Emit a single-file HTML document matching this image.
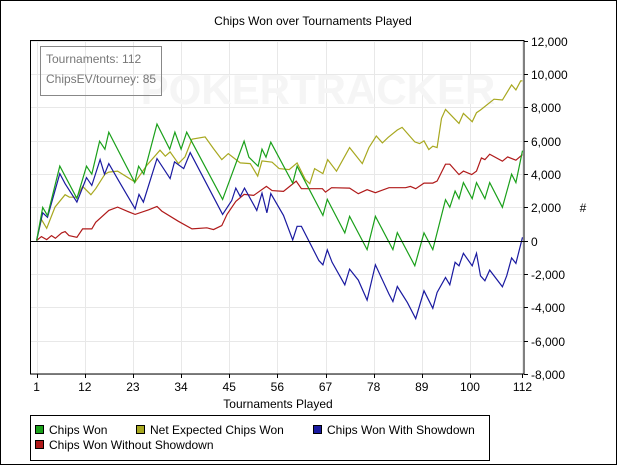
<!DOCTYPE html>
<html><head><meta charset="utf-8"><style>
body{margin:0;background:#fff;font-family:"Liberation Sans",sans-serif;}
svg text{font-family:"Liberation Sans",sans-serif;}
</style></head><body>
<svg id="chart" width="617" height="465" xmlns="http://www.w3.org/2000/svg">
<rect x="0.5" y="0.5" width="616" height="464" fill="#fff" stroke="#000"/>
<text x="313" y="25" font-size="12" text-anchor="middle">Chips Won over Tournaments Played</text>
<g id="grid"></g>
<text x="318" y="104" font-size="42" fill="#f5f5f5" text-anchor="middle" font-weight="bold">POKERTRACKER</text>
<rect x="40.5" y="46.5" width="121" height="49" fill="none" stroke="#888"/>
<text x="46" y="63" font-size="12" fill="#777">Tournaments: 112</text>
<text x="46" y="83" font-size="12" fill="#777">ChipsEV/tourney: 85</text>
<g id="series"></g>
<rect x="30.5" y="40.5" width="493.5" height="333.5" fill="none" stroke="#000"/>
<g id="axes"></g>
<text x="278" y="408" font-size="12" text-anchor="middle">Tournaments Played</text>
<text x="583" y="212" font-size="12" text-anchor="middle">#</text>
<rect x="30.5" y="415.5" width="459" height="45" fill="#fff" stroke="#000"/>
<g><rect x="35.5" y="425.5" width="8" height="8" fill="#1aa01a" stroke="#000"/><text x="49" y="434" font-size="12">Chips Won</text></g>
<g><rect x="136.5" y="425.5" width="8" height="8" fill="#a8a820" stroke="#000"/><text x="150" y="434" font-size="12">Net Expected Chips Won</text></g>
<g><rect x="313.5" y="425.5" width="8" height="8" fill="#1a1aa0" stroke="#000"/><text x="327" y="434" font-size="12">Chips Won With Showdown</text></g>
<g><rect x="35.5" y="440.5" width="8" height="8" fill="#b01a1a" stroke="#000"/><text x="49" y="449" font-size="12">Chips Won Without Showdown</text></g>
</svg>
<script>
const xTicks=[1,12,23,34,45,56,67,78,89,100,112];
const yTicks=[-8000,-6000,-4000,-2000,0,2000,4000,6000,8000,10000,12000];
const greenT=[1,2.4,3.5,6.3,10.2,12.4,13.6,15.4,16.6,17.5,23.4,24.3,25.5,28.5,31.4,32.6,34,35.3,43.5,48.4,49.5,51.6,52.5,53.4,54.5,59.5,60.5,66.4,67.4,71.4,72.5,76.5,78.4,82.4,83.4,87.4,89.5,91.5,94.4,95.4,96.6,97.5,98.5,100.5,101.5,103.4,104.5,107.4,109.5,110.5,112];
const greenV=[0,1990,1500,4470,2530,4460,3980,5960,5480,6500,3490,4460,3980,6990,5480,6500,5480,6500,2470,5960,5000,4460,5480,5000,5900,3450,4460,1510,2470,460,1460,-540,1460,-540,480,-1510,460,-540,2450,2000,2970,2510,3480,2510,3480,2510,3480,2000,3980,3480,5400];
const blueT=[1,2.4,3.5,6.3,7.5,10.2,12.4,13.6,15.5,16.5,17.5,19.7,23.5,24.4,25.4,28.5,31.5,32.5,34.6,36.1,43.5,45.6,46.5,47.5,48.5,51.3,52.5,53.6,54.5,57.4,59.5,60.5,61.5,65.5,66.4,67.4,68.5,71.4,72.5,74.5,76.5,78.4,81.5,82.4,83.4,85.7,87.6,89.5,91.5,92.5,94.4,95.4,96.6,97.5,98.5,100.5,101.5,102.4,103.4,104.5,107.4,108.4,109.5,110.5,112];
const blueV=[0,1670,1400,4020,3410,2310,3780,3310,4860,3980,4620,3610,1910,2770,2310,4920,3720,4720,4320,5280,1570,2410,3150,2650,3150,1810,2850,1670,2820,1510,40,860,860,-1200,-1450,-560,-1300,-2650,-1710,-2370,-3570,-1450,-3210,-3650,-2750,-3720,-4680,-3010,-4060,-3110,-2210,-2650,-1300,-1510,-760,-1510,-760,-2110,-2410,-1770,-2770,-2110,-1040,-1370,200];
const yellowT=[1,2.1,3.3,5.2,7.5,8.5,10.2,11.5,13.4,14.5,16.6,17.5,19.5,23.5,26.2,29.2,30.4,31.5,33.4,34.9,36.5,39.5,41.4,43.3,44.8,47.5,49.8,51.5,52.5,54.8,56.4,58.7,60.5,62.4,63.4,64.5,66.4,67.5,69.5,72.5,75.4,76.9,78.6,80,81.3,83.4,84.5,87.4,88.5,89.5,90.6,91.5,92.5,93.5,94.4,97.5,98.5,100.5,101.5,102.4,105.5,107.4,109.5,110.5,111.6,112];
const yellowV=[0,1270,740,2010,2750,2600,2610,3250,2750,3110,3980,4110,4170,3510,4520,5420,5060,5320,4620,5020,6080,6220,5520,4860,5220,4660,4620,3870,4780,4700,4320,4260,4660,3660,3410,4320,4020,4860,4160,5580,4620,5580,6270,5860,6190,6630,6790,5920,5820,5980,5460,5660,5580,7330,7870,7030,7630,7130,7670,7830,8480,8430,9340,9040,9580,9580];
const redT=[1,2.1,3.3,4.4,5.3,6.7,7.5,8.4,10.2,11.5,13.6,14.5,17.5,19.5,21.6,23.5,26.6,28.5,29.6,33.4,36.5,39.9,41.4,43.3,44.5,46.5,48.4,50.6,53.5,54.8,57.4,60.3,61.5,66.3,67,68.4,72.5,74.5,76.5,78.4,81.5,85.3,86.4,87.6,89.5,91.5,92.5,94.4,95.4,97.5,98.5,100.4,101.5,102.6,103.4,104.5,107.4,108.6,110.5,112];
const redV=[0,240,60,300,140,460,540,300,200,700,700,1100,1810,2010,1770,1570,1850,2050,1770,1160,700,770,660,900,1570,2350,2770,2710,3250,3000,2950,3570,3110,3110,2910,3170,3150,2810,3050,2870,3170,3170,3250,3110,3450,3450,3570,4580,4580,3960,4170,3960,4170,4960,4860,5180,4760,5020,4820,5160];

const NS='http://www.w3.org/2000/svg';
const L=30.5,R=524,T=40.5,B=374;
function xs(t){return 36.6+(t-1)*(522.5-36.6)/111;}
function ys(v){return T+(12000-v)*(B-T)/20000;}
function fmt(v){return v.toLocaleString('en-US');}
const grid=document.getElementById('grid'),axes=document.getElementById('axes'),ser=document.getElementById('series');
xTicks.forEach(t=>{
  const x=Math.round(xs(t))+0.5;
  const g=document.createElementNS(NS,'line');
  
  
  g.setAttribute('x1',x);g.setAttribute('x2',x);g.setAttribute('y1',T);g.setAttribute('y2',B);g.setAttribute('stroke','#e8e8e8');
  grid.appendChild(g);
  const tk=document.createElementNS(NS,'line');
  
  
  tk.setAttribute('x1',x);tk.setAttribute('x2',x);tk.setAttribute('y1',B);tk.setAttribute('y2',B+4);tk.setAttribute('stroke','#000');
  axes.appendChild(tk);
  const tx=document.createElementNS(NS,'text');
  
  
  tx.setAttribute('x',xs(t));tx.setAttribute('y',391);tx.setAttribute('font-size','12');tx.setAttribute('text-anchor','middle');
  tx.textContent=t;axes.appendChild(tx);
});
yTicks.forEach(v=>{
  const y=Math.round(ys(v))+0.5;
  const g=document.createElementNS(NS,'line');
  
  
  g.setAttribute('x1',L);g.setAttribute('x2',R);g.setAttribute('y1',y);g.setAttribute('y2',y);g.setAttribute('stroke',v===0?'#000':'#e8e8e8');
  (v===0?axes:grid).appendChild(g);
  const tk=document.createElementNS(NS,'line');
  
  
  tk.setAttribute('x1',R);tk.setAttribute('x2',R+4);tk.setAttribute('y1',y);tk.setAttribute('y2',y);tk.setAttribute('stroke','#000');
  axes.appendChild(tk);
  const tx=document.createElementNS(NS,'text');
  
  
  tx.setAttribute('x',531);tx.setAttribute('y',y+4.5);tx.setAttribute('font-size','12');
  tx.textContent=fmt(v);axes.appendChild(tx);
});
function line(ts,vs,color,name){
  const p=document.createElementNS(NS,'polyline');
  
  
  p.setAttribute('points',ts.map((t,i)=>xs(t).toFixed(1)+','+ys(vs[i]).toFixed(1)).join(' '));
  p.setAttribute('fill','none');p.setAttribute('stroke',color);p.setAttribute('stroke-width','1.2');
  ser.appendChild(p);
}
line(redT,redV,'#b01a1a','series-without-showdown');
line(yellowT,yellowV,'#a8a820','series-net-expected');
line(blueT,blueV,'#1a1aa0','series-with-showdown');
line(greenT,greenV,'#1aa01a','series-chips-won');
</script>
</body></html>
